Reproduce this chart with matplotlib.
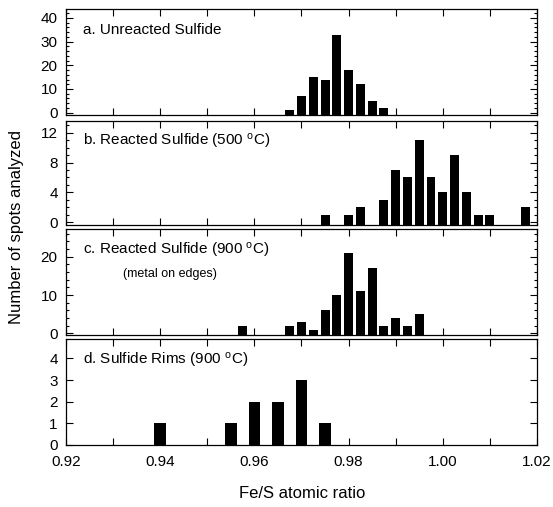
import matplotlib
matplotlib.use("Agg")
import matplotlib.pyplot as plt
from matplotlib.ticker import MultipleLocator, FixedLocator

plt.rcParams['font.family'] = ['Liberation Sans', 'DejaVu Sans']
plt.rcParams['mathtext.fontset'] = 'custom'
plt.rcParams['mathtext.rm'] = 'Liberation Sans'
plt.rcParams['mathtext.it'] = 'Liberation Sans'

# ---- data ----
a_x = [0.9675, 0.970, 0.9725, 0.975, 0.9775, 0.980, 0.9825, 0.985, 0.9875]
a_y = [1, 7, 15, 14, 33, 18, 12, 5, 2]

b_x = [0.975, 0.980, 0.9825, 0.9875, 0.990, 0.9925, 0.995, 0.9975, 1.000,
       1.0025, 1.005, 1.0075, 1.010, 1.0175]
b_y = [1, 1, 2, 3, 7, 6, 11, 6, 4, 9, 4, 1, 1, 2]

c_x = [0.9575, 0.9675, 0.970, 0.9725, 0.975, 0.9775, 0.980, 0.9825, 0.985,
       0.9875, 0.990, 0.9925, 0.995]
c_y = [2, 2, 3, 1, 6, 10, 21, 11, 17, 2, 4, 2, 5]

d_x = [0.940, 0.955, 0.960, 0.965, 0.970, 0.975]
d_y = [1, 1, 2, 2, 3, 1]

labels = ["a. Unreacted Sulfide",
          "b. Reacted Sulfide (500 $^{\\mathrm{o}}$C)",
          "c. Reacted Sulfide (900 $^{\\mathrm{o}}$C)",
          "d. Sulfide Rims (900 $^{\\mathrm{o}}$C)"]
x_ticks = [0.92, 0.94, 0.96, 0.98, 1.00, 1.02]
x_ticklabels = ["0.92", "0.94", "0.96", "0.98", "1.00", "1.02"]

panels = [
    (a_x, a_y, 0.0019, (-1.0, 43.8), 10, 2),
    (b_x, b_y, 0.0019, (-0.4, 13.6), 4, 1),
    (c_x, c_y, 0.0019, (-0.4, 27.2), 10, 2),
    (d_x, d_y, 0.0025, (0.0, 4.9), 1, None),
]

W, H = 553, 507
fig = plt.figure(figsize=(W / 100, H / 100), dpi=100)
tops_bottoms = [(9, 115), (121, 225), (229, 335), (339, 445)]
left, right = 66, 537

for i, ((xs, ys, w, ylim, major, minor), (t, b)) in enumerate(zip(panels, tops_bottoms)):
    ax = fig.add_axes([left / W, 1 - b / H, (right - left) / W, (b - t) / H])
    y0 = ylim[0]
    ax.bar(xs, [v - y0 for v in ys], width=w, bottom=y0, color='black',
           edgecolor='black', linewidth=0)
    ax.set_xlim(0.92, 1.02)
    ax.set_ylim(*ylim)
    ax.xaxis.set_major_locator(MultipleLocator(0.01))
    ax.yaxis.set_major_locator(MultipleLocator(major))
    if minor:
        ax.yaxis.set_minor_locator(MultipleLocator(minor))
    ax.tick_params(which='both', direction='in', top=True, right=True,
                   labelsize=11, width=0.8, pad=6)
    ax.tick_params(which='major', length=5)
    ax.tick_params(which='minor', length=2.5)
    for s in ax.spines.values():
        s.set_linewidth(0.9)
    ax.text(0.036, 0.8, labels[i], transform=ax.transAxes, fontsize=11,
            ha='left', va='center')
    if i == 2:
        ax.text(0.12, 0.58, "(metal on edges)", transform=ax.transAxes,
                fontsize=9, ha='left', va='center')
    if i < 3:
        ax.set_xticklabels([])
    else:
        ax.set_xticks([k / 100 for k in range(92, 103)])
        ax.set_xticklabels([s if abs(round(k / 100, 2) * 100 % 2) < 1e-6 or k % 2 == 0 else ""
                            for k, s in zip(range(92, 103),
                                            ["0.92", "", "0.94", "", "0.96", "", "0.98", "", "1.00", "", "1.02"])])
        ax.tick_params(axis='x', pad=7)

fig.text(302 / W, 1 - 493 / H, "Fe/S atomic ratio", fontsize=12,
         ha='center', va='center')
fig.text(17 / W, 1 - 227 / H, "Number of spots analyzed", fontsize=12,
         ha='center', va='center', rotation=90)

fig.savefig("out.png", dpi=100)
